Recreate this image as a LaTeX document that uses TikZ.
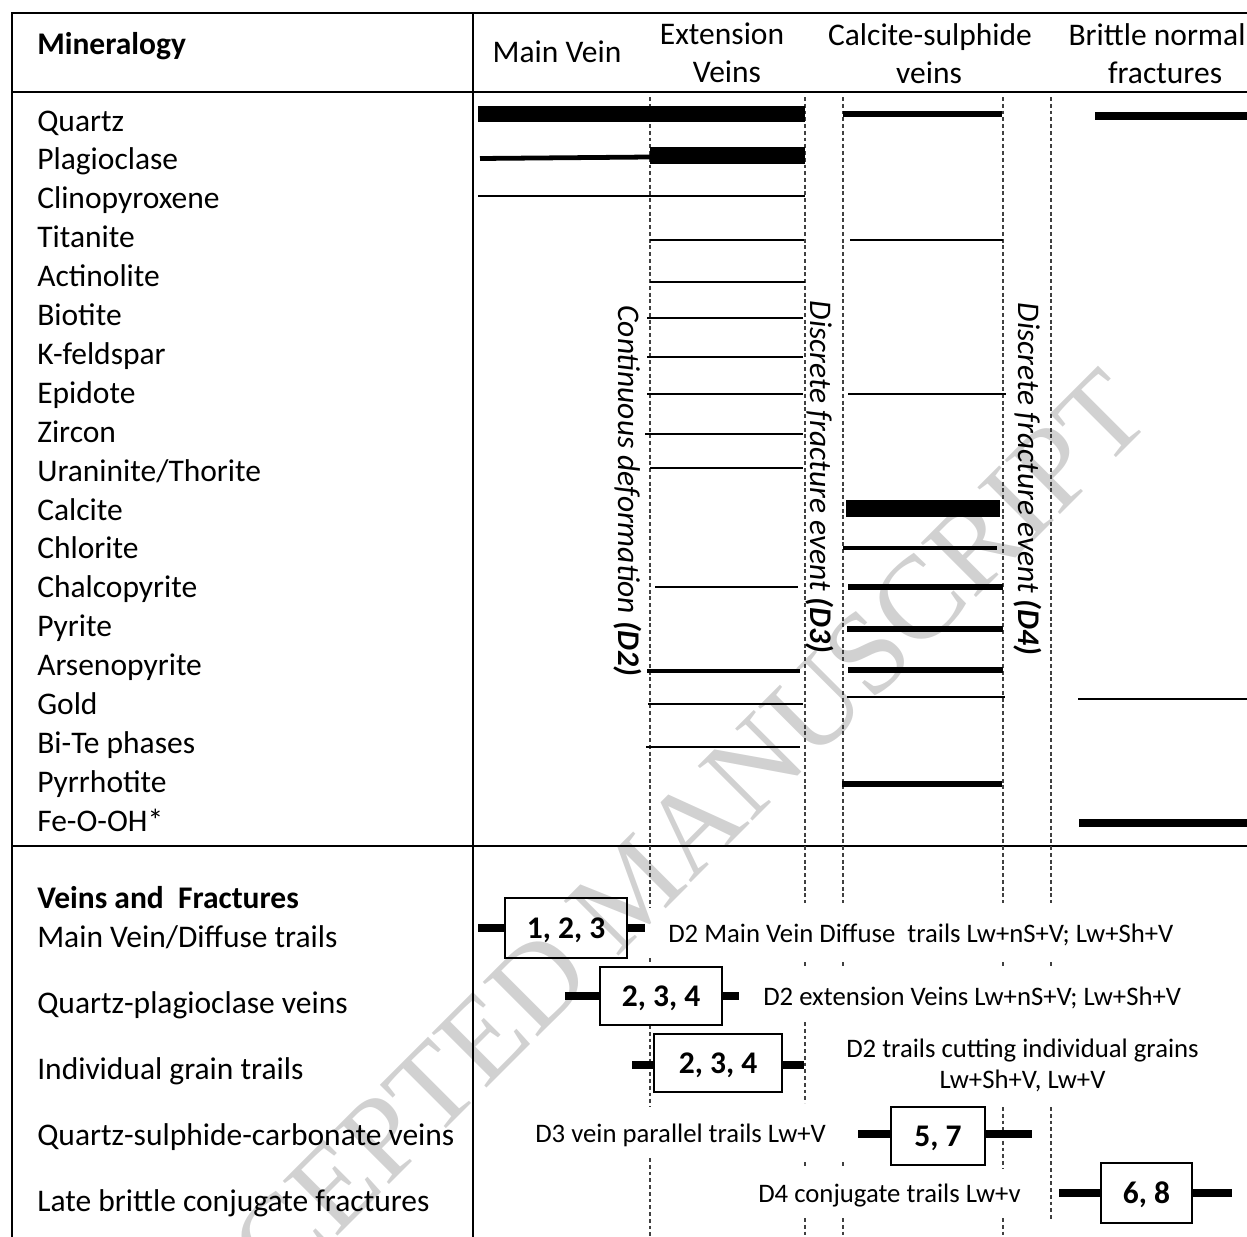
\documentclass[tikz,border=0pt]{standalone}
\usepackage{fontspec}
\setmainfont{Carlito}
\newfontfamily\wmfont{Liberation Serif}
\newcommand\mainsz{\fontsize{22.4pt}{27pt}\selectfont}
\newcommand\annsz{\fontsize{19pt}{23pt}\selectfont}
\tikzset{
  lbl/.style={anchor=base west, inner sep=0pt, font=\mainsz},
  hdr/.style={anchor=base, inner sep=0pt, font=\mainsz},
  ann/.style={anchor=base west, inner sep=0pt, font=\annsz},
  annc/.style={anchor=base, inner sep=0pt, font=\annsz},
  rot/.style={rotate=-90, inner sep=0pt, font=\mainsz\itshape},
  frame/.style={line width=1.9pt, line cap=rect},
  guide/.style={line width=0.9pt, dash pattern=on 2.8pt off 2pt, black!75},
  bar/.style={line cap=butt},
  numbox/.style={draw, line width=1.4pt, font=\mainsz\bfseries, inner sep=0pt, text depth=0pt},
  whisk/.style={line width=5.5pt, line cap=butt},
}
\begin{document}
\begin{tikzpicture}[x=0.025cm,y=-0.025cm]
\useasboundingbox (0,0) rectangle (1247,1236);
% watermark
\node[rotate=45, inner sep=0pt, text=black!18, font=\wmfont\fontsize{84pt}{84pt}\selectfont] (wm) at (632,888) {ACCEPTED MANUSCRIPT};
% frame
\draw[frame] (12,1236) -- (12,13) -- (1247,13);
\draw[frame] (12,92) -- (1247,92);
\draw[frame] (12,846) -- (1247,846);
\draw[frame] (473,13) -- (473,1236);
% dashed guides
\draw[guide] (650,97) -- (650,907);
\draw[guide] (650,958) -- (650,964);
\draw[guide] (650,1025) -- (650,1107);
\draw[guide] (650,1158) -- (650,1236);
\draw[guide] (805,97) -- (805,903);
\draw[guide] (805,962) -- (805,968);
\draw[guide] (805,1022) -- (805,1103);
\draw[guide] (805,1162) -- (805,1167);
\draw[guide] (805,1218) -- (805,1236);
\draw[guide] (843,97) -- (843,903);
\draw[guide] (843,962) -- (843,968);
\draw[guide] (843,1162) -- (843,1167);
\draw[guide] (843,1218) -- (843,1236);
\draw[guide] (1003,97) -- (1003,903);
\draw[guide] (1003,962) -- (1003,968);
\draw[guide] (1003,1107) -- (1003,1168);
\draw[guide] (1003,1218) -- (1003,1236);
\draw[guide] (1051,97) -- (1051,903);
\draw[guide] (1051,962) -- (1051,968);
\draw[guide] (1051,1107) -- (1051,1220);
% headers
\node[lbl, font=\mainsz\bfseries] (hmin) at (37,54) {Mineralogy};
\node[hdr] (hmv) at (557,62) {Main Vein};
\node[hdr] (hev1) at (722,44) {Extension};
\node[hdr] (hev2) at (727,82) {Veins};
\node[hdr] (hcs1) at (930,45) {Calcite-sulphide};
\node[hdr] (hcs2) at (929,83) {veins};
\node[hdr] (hbn1) at (1157,45) {Brittle normal};
\node[hdr] (hbn2) at (1165,83) {fractures};
% mineral labels
\foreach \t [count=\i from 0] in {Quartz,Plagioclase,Clinopyroxene,Titanite,Actinolite,Biotite,K-feldspar,Epidote,Zircon,Uraninite/Thorite,Calcite,Chlorite,Chalcopyrite,Pyrite,Arsenopyrite,Gold,Bi-Te phases,Pyrrhotite,Fe-O-OH*}
  \node[lbl] (m\i) at (37,{131+38.9*\i}) {\t};
% bars: main vein / extension veins
\draw[bar, line width=11.4pt] (478,114) -- (805,114);
\draw[bar, line width=3.4pt] (480,158.5) -- (650,157);
\draw[bar, line width=12.1pt] (650,155.5) -- (805,155.5);
\draw[bar, line width=1.6pt] (478,196) -- (805,196);
\draw[bar, line width=1.4pt] (650,240) -- (804,240);
\draw[bar, line width=1.6pt] (650,282) -- (805,282);
\draw[bar, line width=1.1pt] (647,318) -- (803,318);
\draw[bar, line width=1.1pt] (647,357) -- (803,357);
\draw[bar, line width=1.1pt] (647,394) -- (803,394);
\draw[bar, line width=1.1pt] (645,434) -- (803,434);
\draw[bar, line width=1.1pt] (650,468) -- (803,468);
\draw[bar, line width=1.1pt] (655,587) -- (798,587);
\draw[bar, line width=2.2pt] (647,671) -- (800,671);
\draw[bar, line width=1.8pt] (648,704) -- (803,704);
\draw[bar, line width=1.6pt] (646,747) -- (800,747);
% bars: calcite-sulphide veins
\draw[bar, line width=4.3pt] (843,114) -- (1002,114);
\draw[bar, line width=1.4pt] (850,240) -- (1003,240);
\draw[bar, line width=1.1pt] (848,394) -- (1006,394);
\draw[bar, line width=11.6pt] (846,508.5) -- (1000,508.5);
\draw[bar, line width=2.4pt] (843,548) -- (997,548);
\draw[bar, line width=4.1pt] (848,587) -- (1003,587);
\draw[bar, line width=4.1pt] (847,629) -- (1003,629);
\draw[bar, line width=4.1pt] (848,670) -- (1003,670);
\draw[bar, line width=1.8pt] (847,697) -- (1005,697);
\draw[bar, line width=4.3pt] (842,784) -- (1002,784);
% bars: brittle normal fractures
\draw[bar, line width=5pt] (1095,116) -- (1247,116);
\draw[bar, line width=1.8pt] (1078,699) -- (1247,699);
\draw[bar, line width=5pt] (1079,823) -- (1247,823);
% rotated labels
\node[rot] (d2) at (628,491) {Continuous deformation \textbf{(D2)}};
\node[rot] (d3) at (820,477) {Discrete fracture event \textbf{(D3)}};
\node[rot] (d4) at (1028,479) {Discrete fracture event \textbf{(D4)}};
% veins and fractures labels
\node[lbl, font=\mainsz\bfseries] (vf) at (37,908) {Veins and\ \ Fractures};
\node[lbl] (v1) at (37,947) {Main Vein/Diffuse trails};
\node[lbl] (v2) at (37,1013) {Quartz-plagioclase veins};
\node[lbl] (v3) at (37,1079) {Individual grain trails};
\node[lbl] (v4) at (37,1145) {Quartz-sulphide-carbonate veins};
\node[lbl] (v5) at (37,1211) {Late brittle conjugate fractures};
% boxes
\node[numbox, minimum width=86.8pt, minimum height=42.7pt] (b1) at (566,928) {1, 2, 3};
\node[numbox, minimum width=86.8pt, minimum height=41.3pt] (b2) at (661,996) {2, 3, 4};
\node[numbox, minimum width=91pt, minimum height=41.3pt] (b3) at (718,1063) {2, 3, 4};
\node[numbox, minimum width=66.9pt, minimum height=41.3pt] (b4) at (938,1136) {5, 7};
\node[numbox, minimum width=64.7pt, minimum height=42.7pt] (b5) at (1146.5,1193) {6, 8};
% whisker ends
\coordinate (w1l) at (478,928); \coordinate (w1r) at (645,928);
\coordinate (w2l) at (565,996); \coordinate (w2r) at (739,996);
\coordinate (w3l) at (632,1065); \coordinate (w3r) at (804,1065);
\coordinate (w4l) at (858,1134); \coordinate (w4r) at (1032,1134);
\coordinate (w5l) at (1059,1193); \coordinate (w5r) at (1232,1193);
\draw[whisk] (w1l) -- (b1.west |- w1l); \draw[whisk] (b1.east |- w1r) -- (w1r);
\draw[whisk] (w2l) -- (b2.west |- w2l); \draw[whisk] (b2.east |- w2r) -- (w2r);
\draw[whisk] (w3l) -- (b3.west |- w3l); \draw[whisk] (b3.east |- w3r) -- (w3r);
\draw[whisk] (w4l) -- (b4.west |- w4l); \draw[whisk] (b4.east |- w4r) -- (w4r);
\draw[whisk] (w5l) -- (b5.west |- w5l); \draw[whisk] (b5.east |- w5r) -- (w5r);
% annotations
\node[ann] (a1) at (668,942) {D2 Main Vein Diffuse\ \ trails Lw+nS+V; Lw+Sh+V};
\node[ann] (a2) at (763,1005) {D2 extension Veins Lw+nS+V; Lw+Sh+V};
\node[annc] (a3) at (1022.5,1057) {D2 trails cutting individual grains};
\node[annc] (a3b) at (1022.5,1088) {Lw+Sh+V, Lw+V};
\node[ann] (a4) at (535,1142) {D3 vein parallel trails Lw+V};
\node[ann] (a5) at (758,1202) {D4 conjugate trails Lw+v};
\end{tikzpicture}
\end{document}
